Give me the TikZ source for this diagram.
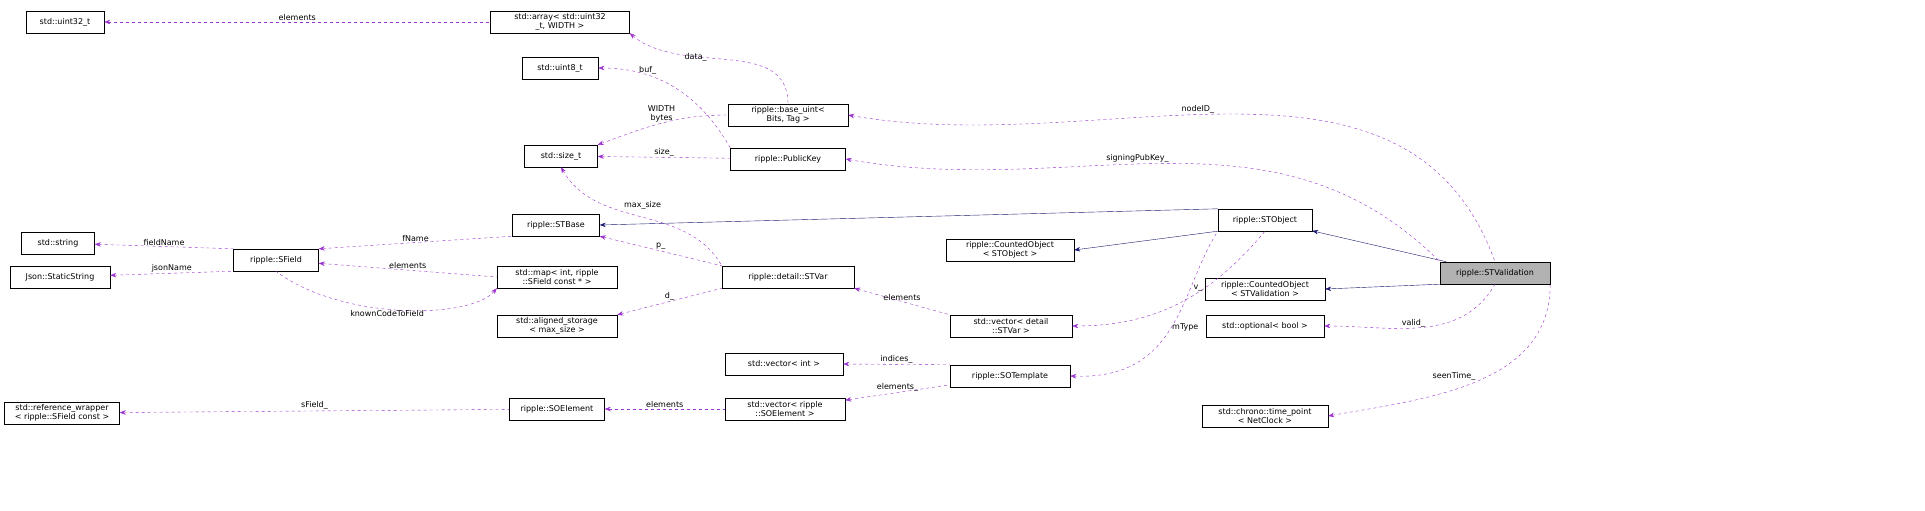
\documentclass[tikz,border=0pt]{standalone}
\usepackage{fontspec}
\setmainfont{DejaVu Sans}
\usetikzlibrary{arrows.meta}
\begin{document}
\begin{tikzpicture}[x=1pt,y=-1pt]

\tikzstyle{cls}=[rectangle, draw, font=\fontsize{8}{9}\selectfont, align=center, inner sep=2pt, minimum height=22pt]
\tikzstyle{member}=[<-, >={Stealth[length=6pt]}, dashed, color={rgb,255:red,154;green,50;blue,205}]
\tikzstyle{inherit}=[<-, >={Stealth[length=6pt]}, color={rgb,255:red,25;green,25;blue,112}]
\tikzstyle{lbl}=[font=\fontsize{8}{9}\selectfont, text=black, align=center, inner sep=1pt]

\useasboundingbox (0,0) rectangle (1925,511);

\node (uint32) [cls, minimum width=78pt] at (65,22) {std::uint32\_t};
\node (array) [cls, minimum width=139pt] at (560,22) {std::array< std::uint32\\\_t, WIDTH >};
\node (uint8) [cls, minimum width=76pt] at (560,68) {std::uint8\_t};
\node (baseuint) [cls, minimum width=120pt] at (788,115) {ripple::base\_uint<\\Bits, Tag >};
\node (sizet) [cls, minimum width=73pt] at (561,156) {std::size\_t};
\node (pubkey) [cls, minimum width=115pt] at (788,159) {ripple::PublicKey};
\node (string) [cls, minimum width=73pt] at (58,243) {std::string};
\node (json) [cls, minimum width=100pt] at (60,277) {Json::StaticString};
\node (sfield) [cls, minimum width=85pt] at (276,260) {ripple::SField};
\node (stbase) [cls, minimum width=87pt] at (556,225) {ripple::STBase};
\node (map) [cls, minimum width=120pt] at (557,277) {std::map< int, ripple\\::SField const * >};
\node (stvar) [cls, minimum width=132pt] at (788,277) {ripple::detail::STVar};
\node (aligned) [cls, minimum width=120pt] at (557,326) {std::aligned\_storage\\< max\_size >};
\node (stobject) [cls, minimum width=94pt] at (1265,220) {ripple::STObject};
\node (cntobj) [cls, minimum width=128pt] at (1010,250) {ripple::CountedObject\\< STObject >};
\node (vecvar) [cls, minimum width=122pt] at (1011,326) {std::vector< detail\\::STVar >};
\node (vecint) [cls, minimum width=118pt] at (784,364) {std::vector< int >};
\node (refwrap) [cls, minimum width=115pt] at (62,413) {std::reference\_wrapper\\< ripple::SField const >};
\node (soelem) [cls, minimum width=95pt] at (557,409) {ripple::SOElement};
\node (vecsoel) [cls, minimum width=120pt] at (785,409) {std::vector< ripple\\::SOElement >};
\node (sotempl) [cls, minimum width=120pt] at (1010,376) {ripple::SOTemplate};
\node (stval) [cls, minimum width=110pt, fill=black!30] at (1495,273) {ripple::STValidation};
\node (cntval) [cls, minimum width=120pt] at (1265,289) {ripple::CountedObject\\< STValidation >};
\node (optional) [cls, minimum width=118pt] at (1265,326) {std::optional< bool >};
\node (timept) [cls, minimum width=126pt] at (1265,416) {std::chrono::time\_point\\< NetClock >};

% inheritance
\draw [inherit] (stobject) -- (stval);
\draw [inherit] (cntval.east) -- (stval.south west);
\draw [inherit] (stbase.east) -- (stobject.north west);
\draw [inherit] (cntobj.east) -- (stobject.south west);

% members
\draw [member] (uint32) -- node[lbl, above] {elements} (array);
\draw [member] (array.south east) to[out=-40, in=90] node[lbl, left, pos=0.4] {data\_} (baseuint.north);
\draw [member] (uint8.east) to[out=0, in=120] node[lbl, above, pos=0.3] {buf\_} (pubkey.north west);
\draw [member] (sizet.north east) to[out=20, in=180] node[lbl, above, pos=0.5] {WIDTH\\bytes} (baseuint.west);
\draw [member] (sizet) -- node[lbl, above] {size\_} (pubkey);
\draw [member] (baseuint.east) to[out=-10, in=110] node[lbl, above, pos=0.45] {nodeID\_} (stval.north);
\draw [member] (pubkey.east) to[out=-10, in=135] node[lbl, above, pos=0.45] {signingPubKey\_} (stval.north west);
\draw [member] (sizet.south) to[out=-60, in=120] node[lbl, above right, pos=0.4] {max\_size} (stvar.north west);
\draw [member] (string) -- node[lbl, above] {fieldName} (sfield.north west);
\draw [member] (json) -- node[lbl, above] {jsonName} (sfield.south west);
\draw [member] (sfield.north east) -- node[lbl, above] {fName} (stbase.south west);
\draw [member] (sfield) -- node[lbl, above] {elements} (map.west);
\draw [member] (map.south west) .. controls (470,320) and (340,320) .. node[lbl, below, pos=0.55] {knownCodeToField} (sfield.south);
\draw [member] (stbase.south east) -- node[lbl, above] {p\_} (stvar.north west);
\draw [member] (aligned.north east) -- node[lbl, above] {d\_} (stvar.south west);
\draw [member] (stvar.south east) -- node[lbl, above] {elements} (vecvar.north west);
\draw [member] (vecvar.east) to[out=0, in=-130] node[lbl, above, pos=0.6] {v\_} (stobject.south);
\draw [member] (sotempl.east) .. controls (1180,380) and (1180,290) .. node[lbl, right, pos=0.5] {mType} (stobject.south west);
\draw [member] (vecint.east) -- node[lbl, above] {indices\_} (sotempl.north west);
\draw [member] (vecsoel) -- node[lbl, above] {elements\_} (sotempl);
\draw [member] (soelem) -- node[lbl, above] {elements} (vecsoel);
\draw [member] (refwrap) -- node[lbl, above] {sField\_} (soelem);
\draw [member] (optional.east) to[out=0, in=-120] node[lbl, above, pos=0.45] {valid\_} (stval.south);
\draw [member] (timept.east) to[out=10, in=-90] node[lbl, above left, pos=0.5] {seenTime\_} (stval.south east);

\end{tikzpicture}
\end{document}
